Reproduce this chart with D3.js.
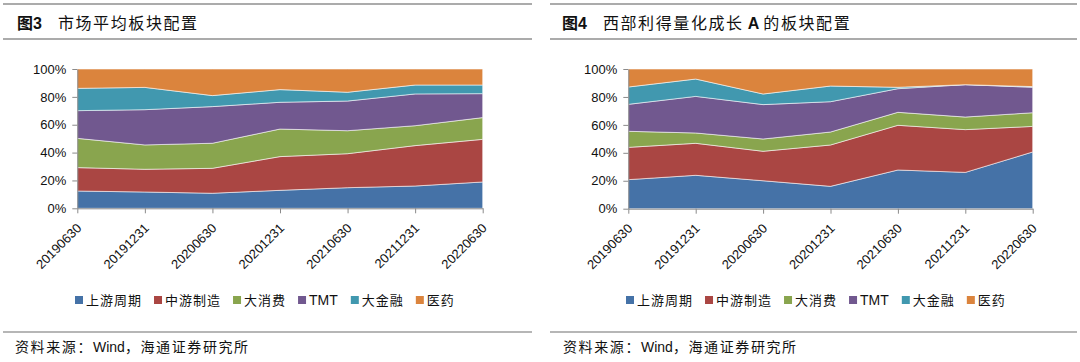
<!DOCTYPE html>
<html>
<head>
<meta charset="utf-8">
<script src="https://cdn.jsdelivr.net/npm/d3@7"></script>
<style>
  html, body { margin: 0; padding: 0; background: #fff; }
  svg { display: block; font-family: "Liberation Sans", Arial, "Noto Sans CJK SC", sans-serif; }
</style>
</head>
<body>
<div id="chart"></div>
<script>
// Data (percent of portfolio)
const dates = ["20190630","20191231","20200630","20201231","20210630","20211231","20220630"];
const sectors = ["上游周期","中游制造","大消费","TMT","大金融","医药"];
const colors = ["#4572A7","#AA4643","#89A54E","#71588F","#4198AF","#DB843D"];
const yTicks = [0, 20, 40, 60, 80, 100];

// 图3 市场平均
const mktUpstream = [12.4, 11.7, 10.8, 12.9, 14.8, 16.0, 18.9];
const mktMidstream = [16.8, 16.3, 17.9, 24.2, 24.4, 29.0, 30.6];
const mktConsumer = [21.0, 17.5, 18.0, 19.8, 16.5, 14.3, 15.6];
const mktTMT = [19.9, 25.3, 26.3, 19.2, 21.3, 22.8, 17.2];
const mktFinance = [16.0, 16.0, 7.9, 9.1, 6.3, 6.4, 6.2];
const mktPharma = [13.9, 13.2, 19.1, 14.8, 16.7, 11.5, 11.5];

// 图4 西部利得量化成长A
const fundUpstream = [20.8, 23.9, 20.0, 16.0, 27.7, 26.0, 40.6];
const fundMidstream = [23.1, 22.9, 21.1, 29.6, 32.0, 30.6, 18.3];
const fundConsumer = [11.5, 7.4, 8.8, 9.3, 9.3, 9.0, 9.8];
const fundTMT = [19.3, 26.2, 24.6, 21.7, 16.9, 23.2, 18.2];
const fundFinance = [12.4, 12.4, 7.6, 11.2, 1.0, 0.0, 0.5];
const fundPharma = [12.9, 7.2, 17.9, 12.2, 13.1, 11.2, 12.6];

const W = 1080, H = 362;
const svg = d3.select("#chart").append("svg")
  .attr("width", W).attr("height", H)
  .attr("viewBox", `0 0 ${W} ${H}`);
svg.append("rect").attr("width", W).attr("height", H).attr("fill", "#fff");

function rowsFrom(cols) {
  return dates.map((d, i) => {
    const r = { date: d };
    sectors.forEach((s, j) => r[s] = cols[j][i]);
    return r;
  });
}

function drawPanel(opt) {
  const g = svg.append("g");

  // title bar
  [opt.barTop, opt.barBottom].forEach(y => {
    g.append("line")
      .attr("x1", opt.barX0).attr("x2", opt.barX1)
      .attr("y1", y).attr("y2", y)
      .attr("stroke", "#8f8f8f").attr("stroke-width", 1.6);
  });
  const title = g.append("text")
    .attr("x", opt.titleX).attr("y", 29)
    .attr("font-size", 16)
    .attr("fill", "#111");
  title.append("tspan").attr("font-weight", "bold")
    .attr("font-family", "'Noto Sans CJK SC'").text("图");
  title.append("tspan").attr("font-weight", "bold")
    .attr("font-family", "'Liberation Sans', Arial").text(opt.figNo);
  opt.titleParts.forEach((p, i) => {
    title.append("tspan")
      .attr("dx", i === 0 ? 16 : 4)
      .attr("font-weight", p.bold ? "bold" : "normal")
      .attr("font-family", p.latin ? "'Liberation Sans', Arial" : "'Noto Sans CJK SC'")
      .attr("letter-spacing", p.latin ? 0 : 1.6)
      .text(p.t);
  });

  // plot
  const x = d3.scalePoint().domain(dates).range([opt.px0, opt.px1]);
  const y = d3.scaleLinear().domain([0, 100]).range([opt.py1, opt.py0]);
  const stack = d3.stack().keys(sectors)(rowsFrom(opt.cols));
  const area = d3.area()
    .x(d => x(d.data.date))
    .y0(d => y(d[0]))
    .y1(d => y(d[1]));

  g.append("g").selectAll("path")
    .data(stack)
    .join("path")
    .attr("d", area)
    .attr("fill", (d, i) => colors[i])
    .attr("stroke", "#ffffff")
    .attr("stroke-opacity", 0.8)
    .attr("stroke-width", 0.7);

  // y axis
  const yAxis = g.append("g")
    .attr("transform", `translate(${opt.px0},0)`)
    .call(d3.axisLeft(y).tickValues(yTicks).tickSize(5).tickSizeOuter(0).tickPadding(6)
      .tickFormat(d => d + "%"));
  yAxis.select(".domain").attr("stroke", "#8a8a8a");
  yAxis.selectAll(".tick line").attr("stroke", "#8a8a8a");
  yAxis.selectAll(".tick text")
    .attr("font-size", 13).attr("fill", "#111")
    .attr("font-family", "'Liberation Sans', Arial");

  // x axis
  const xAxis = g.append("g")
    .attr("transform", `translate(0,${opt.py1})`)
    .call(d3.axisBottom(x).tickSize(5).tickSizeOuter(0));
  xAxis.select(".domain").attr("stroke", "#8a8a8a");
  xAxis.selectAll(".tick line").attr("stroke", "#8a8a8a");
  xAxis.selectAll(".tick text")
    .attr("font-size", 13).attr("fill", "#111")
    .attr("font-family", "'Liberation Sans', Arial")
    .attr("text-anchor", "end")
    .attr("dy", null)
    .attr("y", 0)
    .attr("transform", "translate(4.5,20.5) rotate(-45)");

  // legend
  const lg = g.append("g").attr("transform", `translate(${opt.legendX},300)`);
  let cx = 0;
  sectors.forEach((s, i) => {
    const item = lg.append("g").attr("transform", `translate(${cx},0)`);
    item.append("rect")
      .attr("x", 0).attr("y", -4).attr("width", 8).attr("height", 8)
      .attr("fill", colors[i]);
    const latin = /^[A-Z]+$/.test(s);
    const t = item.append("text")
      .attr("x", 11).attr("y", 5)
      .attr("font-size", latin ? 14 : 13)
      .attr("fill", "#111")
      .attr("font-family", latin ? "'Liberation Sans', Arial" : "'Noto Sans CJK SC'")
      .attr("letter-spacing", latin ? 0 : 1)
      .text(s);
    cx += 11 + t.node().getComputedTextLength() + (latin ? 13 : 12);
  });

  // source
  g.append("line")
    .attr("x1", opt.barX0).attr("x2", opt.barX1)
    .attr("y1", 332).attr("y2", 332)
    .attr("stroke", "#6f6f6f").attr("stroke-width", 1.2);
  const src = g.append("text")
    .attr("x", opt.srcX).attr("y", 352)
    .attr("font-size", 14).attr("fill", "#111");
  src.append("tspan").attr("font-family", "'Noto Sans CJK SC'").attr("letter-spacing", 1.6).text("资料来源：");
  src.append("tspan").attr("font-family", "'Liberation Sans', Arial").text("Wind");
  src.append("tspan").attr("font-family", "'Noto Sans CJK SC'").attr("letter-spacing", 1.6).text("，海通证券研究所");
}

drawPanel({
  figNo: "3",
  titleParts: [{ t: "市场平均板块配置" }],
  titleX: 17, barX0: 3, barX1: 532, barTop: 4, barBottom: 39,
  px0: 77.3, px1: 482.7, py0: 69, py1: 208.3,
  legendX: 75, srcX: 15,
  cols: [mktUpstream, mktMidstream, mktConsumer, mktTMT, mktFinance, mktPharma]
});

drawPanel({
  figNo: "4",
  titleParts: [{ t: "西部利得量化成长" }, { t: "A", bold: true, latin: true }, { t: "的板块配置" }],
  titleX: 562, barX0: 550, barX1: 1077, barTop: 4, barBottom: 39,
  px0: 628.3, px1: 1032.7, py0: 69, py1: 208.7,
  legendX: 626, srcX: 563,
  cols: [fundUpstream, fundMidstream, fundConsumer, fundTMT, fundFinance, fundPharma]
});
</script>
</body>
</html>
